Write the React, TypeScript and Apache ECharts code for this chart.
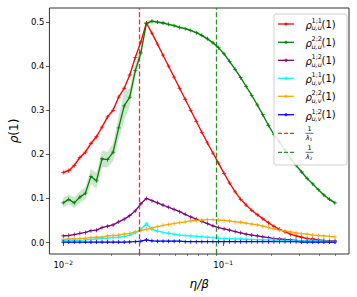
import React, { useEffect, useRef } from "react";
import * as echarts from "echarts";

const etaBeta = [
  0.01, 0.01083, 0.01173, 0.01271, 0.01376, 0.01491, 0.01614, 0.01749, 0.01894, 0.02051,
  0.02222, 0.02406, 0.02606, 0.02823, 0.03058, 0.03312, 0.03587, 0.03885, 0.04208, 0.04558,
  0.04936, 0.05346, 0.05791, 0.06272, 0.06793, 0.07358, 0.07969, 0.08631, 0.09349, 0.1013,
  0.1097, 0.1188, 0.1287, 0.1393, 0.1509, 0.1635, 0.177, 0.1918, 0.2077, 0.225,
  0.2436, 0.2639, 0.2858, 0.3096, 0.3353, 0.3632, 0.3933, 0.426, 0.4614, 0.5,
];

const rhoUU11 = [
  0.159, 0.163, 0.175, 0.193, 0.205, 0.225, 0.24, 0.262, 0.285, 0.3,
  0.33, 0.35, 0.38, 0.42, 0.455, 0.498, 0.475, 0.45, 0.425, 0.4,
  0.375, 0.35, 0.325, 0.3, 0.275, 0.25, 0.226, 0.203, 0.18, 0.157,
  0.135, 0.115, 0.098, 0.085, 0.073, 0.063, 0.054, 0.045, 0.037, 0.03,
  0.024, 0.019, 0.015, 0.012, 0.009, 0.008, 0.006, 0.005, 0.004, 0.004,
];
const rhoUU11Band = [
  0.006, 0.006, 0.006, 0.006, 0.006, 0.006, 0.005, 0.005, 0.005, 0.005,
  0.004, 0.004, 0.004, 0.004, 0.004, 0.004, 0.002, 0.002, 0.002, 0.002,
  0.002, 0.002, 0.002, 0.002, 0.002, 0.002, 0.002, 0.002, 0.002, 0.002,
  0.002, 0.002, 0.002, 0.002, 0.002, 0.002, 0.002, 0.002, 0.002, 0.002,
  0.002, 0.002, 0.002, 0.002, 0.002, 0.002, 0.002, 0.002, 0.002, 0.002,
];

const rhoUU22 = [
  0.09, 0.098, 0.09, 0.103, 0.112, 0.15, 0.14, 0.19, 0.188, 0.205,
  0.26, 0.31, 0.33, 0.39, 0.43, 0.497, 0.502, 0.5, 0.498, 0.495,
  0.492, 0.488, 0.485, 0.481, 0.476, 0.47, 0.462, 0.453, 0.442, 0.428,
  0.411, 0.393, 0.374, 0.354, 0.334, 0.312, 0.29, 0.266, 0.245, 0.228,
  0.21, 0.19, 0.175, 0.16, 0.145, 0.133, 0.12, 0.108, 0.098, 0.09,
];
const rhoUU22Band = [
  0.011, 0.011, 0.012, 0.013, 0.014, 0.017, 0.018, 0.019, 0.018, 0.02,
  0.026, 0.032, 0.02, 0.014, 0.01, 0.006, 0.004, 0.003, 0.003, 0.003,
  0.003, 0.003, 0.003, 0.003, 0.003, 0.003, 0.003, 0.003, 0.003, 0.003,
  0.003, 0.003, 0.003, 0.003, 0.003, 0.003, 0.003, 0.003, 0.003, 0.003,
  0.003, 0.003, 0.003, 0.003, 0.003, 0.003, 0.003, 0.003, 0.003, 0.003,
];

const rhoUU12 = [
  0.015, 0.016, 0.018, 0.021, 0.023, 0.027, 0.028, 0.034, 0.037, 0.04,
  0.047, 0.053, 0.061, 0.072, 0.088, 0.1, 0.095, 0.09, 0.085, 0.08,
  0.075, 0.07, 0.064, 0.058, 0.053, 0.048, 0.043, 0.038, 0.034, 0.031,
  0.028, 0.025, 0.022, 0.019, 0.017, 0.015, 0.013, 0.011, 0.009, 0.008,
  0.007, 0.006, 0.005, 0.004, 0.004, 0.003, 0.003, 0.003, 0.002, 0.002,
];

const rhoUV11 = [
  0.004, 0.004, 0.005, 0.005, 0.006, 0.007, 0.008, 0.009, 0.01, 0.011,
  0.012, 0.014, 0.017, 0.022, 0.03, 0.042, 0.03, 0.026, 0.023, 0.021,
  0.019, 0.017, 0.016, 0.015, 0.014, 0.013, 0.012, 0.011, 0.01, 0.0095,
  0.009, 0.0085, 0.008, 0.0075, 0.007, 0.0065, 0.006, 0.006, 0.0055, 0.005,
  0.005, 0.0045, 0.0045, 0.004, 0.004, 0.004, 0.0035, 0.0035, 0.003, 0.003,
];

const rhoUV22 = [
  0.007, 0.008, 0.008, 0.009, 0.01, 0.011, 0.012, 0.012, 0.015, 0.016,
  0.017, 0.019, 0.021, 0.024, 0.027, 0.03, 0.033, 0.036, 0.039, 0.041,
  0.043, 0.045, 0.047, 0.049, 0.05, 0.051, 0.052, 0.052, 0.051, 0.05,
  0.049, 0.047, 0.046, 0.044, 0.042, 0.04, 0.037, 0.034, 0.031, 0.028,
  0.026, 0.024, 0.022, 0.02, 0.019, 0.017, 0.016, 0.015, 0.014, 0.013,
];

const rhoUV12 = [
  0.001, 0.001, 0.001, 0.001, 0.001, 0.001, 0.001, 0.001, 0.001, 0.001,
  0.001, 0.001, 0.0015, 0.002, 0.003, 0.006, 0.004, 0.003, 0.003, 0.003,
  0.003, 0.003, 0.002, 0.002, 0.002, 0.002, 0.002, 0.002, 0.002, 0.002,
  0.002, 0.002, 0.002, 0.002, 0.002, 0.002, 0.002, 0.002, 0.002, 0.002,
  0.002, 0.002, 0.002, 0.001, 0.001, 0.001, 0.001, 0.001, 0.001, 0.001,
];

const invLambda1 = 0.0326;
const invLambda2 = 0.0915;

const yTicks = [0, 0.1, 0.2, 0.3, 0.4, 0.5];
const xMajorTicks = [0.01, 0.1];
const xMinorTicks = [0.02, 0.03, 0.04, 0.05, 0.06, 0.07, 0.08, 0.09, 0.2, 0.3, 0.4, 0.5];

const seriesDefs = [
  { sup: "1;1", sub: "u,u", color: "#ff0000", data: rhoUU11 },
  { sup: "2;2", sub: "u,u", color: "#008000", data: rhoUU22 },
  { sup: "1;2", sub: "u,u", color: "#800080", data: rhoUU12 },
  { sup: "1;1", sub: "u,v", color: "#00ffff", data: rhoUV11 },
  { sup: "2;2", sub: "u,v", color: "#ffa500", data: rhoUV22 },
  { sup: "1;2", sub: "u,v", color: "#0000ff", data: rhoUV12 },
];

const FONT = "DejaVu Sans";
const PLUS = "path://M2,0H3V2H5V3H3V5H2V3H0V2H2Z";

export default function App() {
  const ref = useRef<HTMLDivElement>(null);
  useEffect(() => {
    if (!ref.current) return;
    const chart = echarts.init(ref.current, undefined, { renderer: "svg" });

    const pairs = (ys: number[]) => etaBeta.map((x, i) => [x, ys[i]]);

    const bandSeries = (mid: number[], half: number[], color: string) => ({
      type: "custom",
      coordinateSystem: "cartesian2d",
      data: [[etaBeta[0], mid[0]]],
      silent: true,
      clip: true,
      z: 1,
      renderItem: (_params: any, api: any) => {
        const upper = etaBeta.map((x, i) => api.coord([x, mid[i] + half[i]]));
        const lower = etaBeta.map((x, i) => api.coord([x, mid[i] - half[i]])).reverse();
        return {
          type: "polygon",
          shape: { points: upper.concat(lower) },
          style: { fill: color, stroke: "none" },
        };
      },
    });

    const lines = seriesDefs.map((s) => ({
      name: s.sup + s.sub,
      type: "line",
      data: pairs(s.data),
      symbol: PLUS,
      symbolSize: 4,
      showSymbol: true,
      itemStyle: { color: s.color },
      lineStyle: { color: s.color, width: 1.3 },
      z: 3,
    }));

    const vline = (x: number, color: string) => ({
      type: "line",
      data: [],
      markLine: {
        silent: true,
        symbol: "none",
        label: { show: false },
        lineStyle: { color, type: [5, 2.4], width: 1.3, opacity: 0.85 },
        data: [{ xAxis: x }],
      },
      z: 4,
    });

    // legend graphic
    const lgX = 274;
    const lgY = 14;
    const rowY = [24, 42.3, 60.3, 78.3, 96.3, 114.7, 133.3, 152.3];
    const legendEls: any[] = [
      {
        type: "rect",
        shape: { x: lgX, y: lgY, width: 73, height: 151, r: 2 },
        style: { fill: "rgba(255,255,255,0.85)", stroke: "#d0d0d0", lineWidth: 1 },
        z: 10,
      },
    ];
    seriesDefs.forEach((s, i) => {
      const cy = rowY[i];
      legendEls.push(
        {
          type: "line",
          shape: { x1: 278, y1: cy, x2: 294, y2: cy },
          style: { stroke: s.color, lineWidth: 1.3 },
          z: 11,
        },
        {
          type: "rect",
          shape: { x: 285.4, y: cy - 1.6, width: 1.2, height: 3.2 },
          style: { fill: s.color },
          z: 11,
        },
        {
          type: "rect",
          shape: { x: 284.4, y: cy - 0.6, width: 3.2, height: 1.2 },
          style: { fill: s.color },
          z: 11,
        },
        {
          type: "text",
          x: 305.5,
          y: cy + 1.5,
          style: { text: "ρ", font: "italic 10px " + FONT, fill: "#000", verticalAlign: "middle" },
          z: 11,
        },
        {
          type: "text",
          x: 311.5,
          y: cy - 3.2,
          style: { text: s.sup, font: "6.5px " + FONT, fill: "#000", verticalAlign: "middle" },
          z: 11,
        },
        {
          type: "text",
          x: 311.5,
          y: cy + 4.3,
          style: { text: s.sub, font: "italic 6.5px " + FONT, fill: "#000", verticalAlign: "middle" },
          z: 11,
        },
        {
          type: "text",
          x: 321.5,
          y: cy,
          style: { text: "(1)", font: "10px " + FONT, fill: "#000", verticalAlign: "middle" },
          z: 11,
        }
      );
    });
    [
      { color: "#ff0000", den: "λ", idx: "1", cy: rowY[6] },
      { color: "#008000", den: "λ", idx: "2", cy: rowY[7] },
    ].forEach((f) => {
      legendEls.push(
        {
          type: "line",
          shape: { x1: 278, y1: f.cy, x2: 294, y2: f.cy },
          style: { stroke: f.color, lineWidth: 1.3, lineDash: [4, 2], opacity: 0.85 },
          z: 11,
        },
        {
          type: "text",
          x: 309.5,
          y: f.cy - 4.5,
          style: { text: "1", font: "6.5px " + FONT, fill: "#000", align: "center", verticalAlign: "middle" },
          z: 11,
        },
        {
          type: "line",
          shape: { x1: 305.5, y1: f.cy, x2: 313.5, y2: f.cy },
          style: { stroke: "#000", lineWidth: 0.6 },
          z: 11,
        },
        {
          type: "text",
          x: 305.8,
          y: f.cy + 5,
          style: { text: f.den, font: "italic 6.5px " + FONT, fill: "#000", verticalAlign: "middle" },
          z: 11,
        },
        {
          type: "text",
          x: 309.6,
          y: f.cy + 6.3,
          style: { text: f.idx, font: "4.5px " + FONT, fill: "#000", verticalAlign: "middle" },
          z: 11,
        }
      );
    });

    const xBase = {
      type: "log",
      logBase: 10,
      min: 0.0082,
      max: 0.612,
      gridIndex: 0,
      position: "bottom",
      splitLine: { show: false },
      axisLine: { show: false },
    };

    chart.setOption({
      animation: false,
      grid: {
        left: 45,
        right: 8,
        top: 8,
        bottom: 43,
        show: true,
        borderColor: "#333",
        borderWidth: 1,
        backgroundColor: "transparent",
      },
      xAxis: [
        {
          ...xBase,
          axisTick: { show: true, length: 3.5, customValues: xMajorTicks, lineStyle: { color: "#333", width: 0.8 } },
          axisLabel: {
            customValues: xMajorTicks,
            margin: 5,
            formatter: (v: number) => "10{s|−" + Math.round(-Math.log10(v)) + "}",
            color: "#000",
            fontFamily: FONT,
            fontSize: 8.5,
            rich: { s: { fontSize: 6, verticalAlign: "top", padding: [0, 0, 5, 0], fontFamily: FONT, color: "#000" } },
          },
          name: "η/β",
          nameLocation: "middle",
          nameGap: 24,
          nameTextStyle: { fontFamily: FONT, fontStyle: "italic", fontSize: 12, color: "#000" },
        },
        {
          ...xBase,
          axisTick: { show: true, length: 2, customValues: xMinorTicks, lineStyle: { color: "#333", width: 0.6 } },
          axisLabel: { show: false },
        },
      ],
      yAxis: {
        type: "value",
        min: -0.026,
        max: 0.532,
        splitLine: { show: false },
        axisLine: { show: false },
        axisTick: { show: true, length: 3.5, customValues: yTicks, lineStyle: { color: "#333", width: 0.8 } },
        axisLabel: {
          customValues: yTicks,
          formatter: (v: number) => v.toFixed(1),
          color: "#000",
          fontFamily: FONT,
          fontSize: 8.5,
          margin: 5,
        },
        name: "{i|ρ}(1)",
        nameLocation: "middle",
        nameGap: 27,
        nameRotate: 90,
        nameTextStyle: {
          fontFamily: FONT,
          fontSize: 12,
          color: "#000",
          rich: { i: { fontFamily: FONT, fontSize: 12, fontStyle: "italic", color: "#000" } },
        },
      },
      series: [
        bandSeries(rhoUU11, rhoUU11Band, "rgba(255,0,0,0.15)"),
        bandSeries(rhoUU22, rhoUU22Band, "rgba(0,128,0,0.2)"),
        ...lines,
        vline(invLambda1, "#ff0000"),
        vline(invLambda2, "#008000"),
      ],
      graphic: legendEls,
    });
    return () => chart.dispose();
  }, []);
  return <div ref={ref} style={{ position: "absolute", left: 0, top: 0, width: 357, height: 297 }} />;
}
